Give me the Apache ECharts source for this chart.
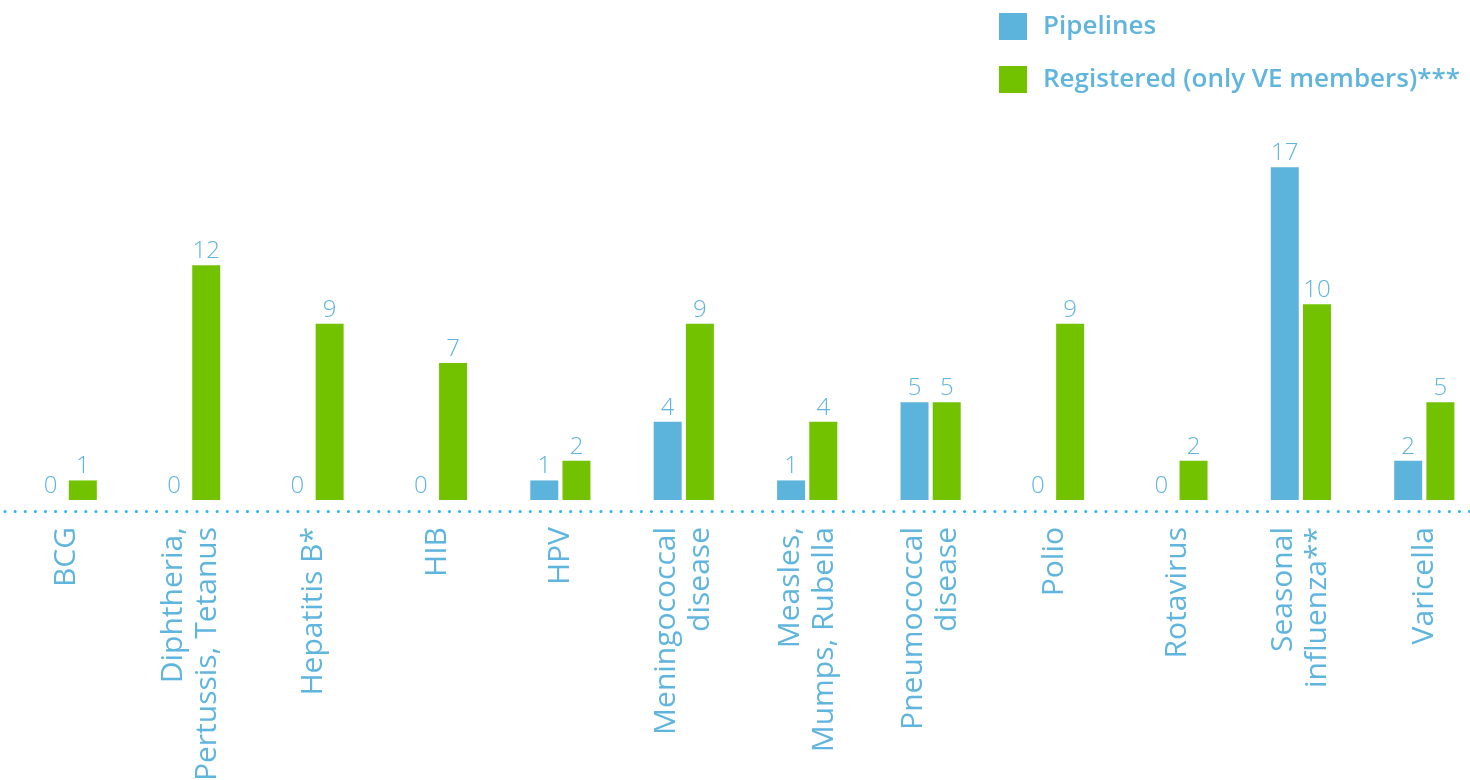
<!DOCTYPE html>
<html>
<head>
<meta charset="utf-8">
<style>
  html, body { margin: 0; padding: 0; background: #ffffff; overflow: hidden; }
  #chart { width: 1500px; height: 780px; }
</style>
<script src="https://cdn.jsdelivr.net/npm/echarts@6/dist/echarts.min.js"></script>
</head>
<body>
<div id="chart"></div>
<script>
// Vaccine pipelines vs registered vaccines, by disease
const categories = [
  'BCG',
  'Diphtheria,\nPertussis, Tetanus',
  'Hepatitis B*',
  'HIB',
  'HPV',
  'Meningococcal\ndisease',
  'Measles,\nMumps, Rubella',
  'Pneumococcal\ndisease',
  'Polio',
  'Rotavirus',
  'Seasonal\ninfluenza**',
  'Varicella'
];
const seriesNames = ['Pipelines', 'Registered (only VE members)***'];
const pipelines  = [0, 0, 0, 0, 1, 4, 1, 5, 0, 0, 17, 2];
const registered = [1, 12, 9, 7, 2, 9, 4, 5, 9, 2, 10, 5];

const BLUE = '#5cb3db';
const GREEN = '#72c200';
const TEXT = '#5fb5de';
const FONT = '"Open Sans", "DejaVu Sans", sans-serif';

const chart = echarts.init(document.getElementById('chart'), null, { renderer: 'canvas' });

const valueLabel = {
  show: true,
  position: 'top',
  distance: 2,
  color: TEXT,
  fontFamily: FONT,
  fontSize: 24,
  fontWeight: 300
};

chart.setOption({
  animation: false,
  backgroundColor: '#ffffff',
  legend: {
    orient: 'vertical',
    left: 999,
    top: 13,
    padding: 0,
    itemWidth: 28,
    itemHeight: 27,
    itemGap: 26,
    icon: 'rect',
    textStyle: {
      color: TEXT,
      fontFamily: FONT,
      fontSize: 26,
      fontWeight: 600,
      lineHeight: 27,
      padding: [0, 0, 0, 11]
    },
    data: seriesNames
  },
  grid: {
    left: 5,
    top: 108.6,
    width: 1481,
    height: 391.4,
    containLabel: false,
    outerBoundsMode: 'none'
  },
  xAxis: {
    type: 'category',
    data: categories,
    offset: 11,
    axisLine: {
      show: true,
      onZero: false,
      lineStyle: { color: '#2db6ef', width: 3, type: [0.1, 10], cap: 'round' }
    },
    axisTick: { show: false },
    axisLabel: {
      rotate: 90,
      interval: 0,
      margin: 16,
      color: TEXT,
      fontFamily: FONT,
      fontSize: 30,
      lineHeight: 34,
      align: 'right',
      verticalAlign: 'middle'
    }
  },
  yAxis: {
    type: 'value',
    min: 0,
    max: 20,
    show: false,
    splitLine: { show: false }
  },
  series: [
    {
      name: seriesNames[0],
      type: 'bar',
      data: pipelines,
      barWidth: 28,
      barGap: '15%',
      itemStyle: { color: BLUE },
      label: valueLabel
    },
    {
      name: seriesNames[1],
      type: 'bar',
      data: registered,
      barWidth: 28,
      itemStyle: { color: GREEN },
      label: valueLabel
    }
  ]
});
</script>
</body>
</html>
